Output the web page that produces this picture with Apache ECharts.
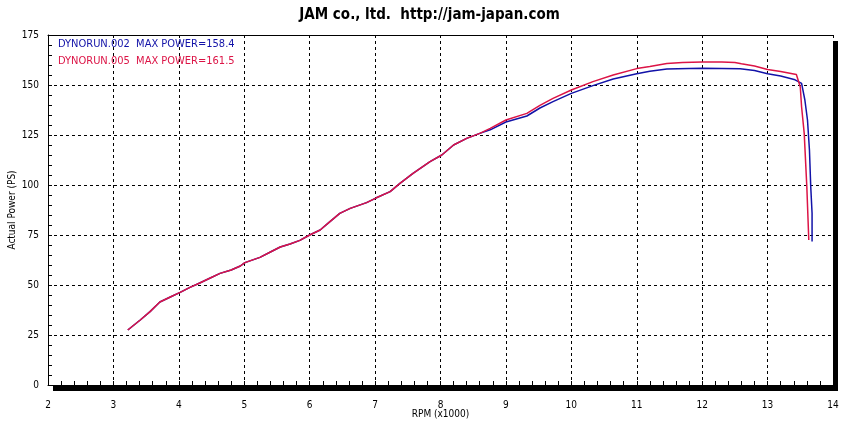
<!DOCTYPE html>
<html>
<head>
<meta charset="utf-8">
<script src="https://cdn.jsdelivr.net/npm/echarts@6/dist/echarts.min.js"></script>
<style>html,body{margin:0;padding:0;background:#fff;}#c{width:859px;height:426px;}</style>
</head>
<body>
<div id="c"></div>
<script>
const FONT = "'Liberation Sans Narrow','DejaVu Sans Condensed','Noto Sans CJK JP',sans-serif";
const titleText = 'JAM co., ltd.  http://jam-japan.com';
const run1Label = 'DYNORUN.002  MAX POWER=158.4';
const run2Label = 'DYNORUN.005  MAX POWER=161.5';
const xTicks = [2,3,4,5,6,7,8,9,10,11,12,13,14];
const yTicks = [0,25,50,75,100,125,150,175];

const run1Rpm = [3.22,3.41,3.56,3.71,3.87,4.02,4.17,4.32,4.48,4.63,4.80,4.94,5.01,5.24,5.40,5.55,5.70,5.85,6.00,6.16,6.31,6.46,6.62,6.87,7.02,7.23,7.38,7.58,7.84,8.02,8.20,8.40,8.60,8.76,9.00,9.32,9.52,9.72,10.00,10.33,10.64,11.00,11.20,11.46,11.80,12.00,12.30,12.58,12.80,13.00,13.20,13.42,13.52,13.57,13.61,13.64,13.66,13.68,13.68];
const run1Power = [27.5,32.5,36.7,41.5,44.0,46.3,48.8,51.0,53.5,55.8,57.5,59.5,61.2,63.8,66.5,69.0,70.5,72.3,75.0,77.5,81.7,85.8,88.3,91.2,93.6,96.7,100.8,105.8,111.7,115.0,120.0,123.3,125.8,127.6,131.5,134.5,138.5,141.7,145.8,149.7,153.0,155.6,156.9,158.0,158.3,158.4,158.3,158.1,157.2,155.6,154.5,152.6,150.8,142.5,132.5,117.5,99.0,86.0,71.7];

const run2Rpm = [3.22,3.41,3.56,3.71,3.87,4.02,4.17,4.32,4.48,4.63,4.80,4.94,5.01,5.24,5.40,5.55,5.70,5.85,6.00,6.16,6.31,6.46,6.62,6.87,7.02,7.23,7.38,7.58,7.84,8.02,8.20,8.40,8.60,8.76,9.00,9.32,9.52,9.72,10.00,10.33,10.64,11.00,11.20,11.46,11.70,12.00,12.30,12.50,12.60,12.80,13.00,13.20,13.44,13.50,13.52,13.56,13.60,13.63];
const run2Power = [27.5,32.5,36.7,41.5,44.0,46.3,48.8,51.0,53.5,55.8,57.5,59.5,61.2,63.8,66.5,69.0,70.5,72.3,75.0,77.5,81.7,85.8,88.3,91.2,93.6,96.7,100.8,105.8,111.7,115.0,120.0,123.3,125.8,128.3,132.5,135.8,139.8,143.3,147.5,151.7,155.0,158.2,159.2,160.8,161.3,161.5,161.5,161.2,160.6,159.5,157.8,156.8,155.2,149.0,139.0,125.8,99.0,72.5];

const run1Color = '#1212a8';
const run2Color = '#dc1446';

const chart = echarts.init(document.getElementById('c'), null, {renderer:'canvas'});
const axisTextStyle = {color:'#000', fontFamily: FONT, fontSize: 10};
const dashed = {show: true, lineStyle: {color:'#000', type: [3,3], width: 1}};
chart.setOption({
  animation: false,
  backgroundColor: '#fff',
  title: [
    {text: titleText, left: 'center', top: 3, textStyle: {color:'#000', fontFamily: FONT, fontSize: 15, fontWeight: 'bold'}},
    {text: run1Label, left: 58, top: 39, padding: 0, textStyle: {color: run1Color, fontFamily: FONT, fontSize: 11, fontWeight: 'normal'}},
    {text: run2Label, left: 58, top: 56, padding: 0, textStyle: {color: run2Color, fontFamily: FONT, fontSize: 11, fontWeight: 'normal'}}
  ],
  grid: {
    left: 48, right: 26, top: 35, bottom: 41,
    outerBoundsMode: 'none', containLabel: false,
    show: true, backgroundColor: '#fff', borderWidth: 0, borderColor: 'transparent',
    shadowColor: '#000', shadowBlur: 0, shadowOffsetX: 5, shadowOffsetY: 6
  },
  xAxis: [{
    type: 'value', min: xTicks[0], max: xTicks[xTicks.length-1], interval: 1,
    name: 'RPM (x1000)', nameLocation: 'middle', nameGap: 24, nameMoveOverlap: false, nameTextStyle: axisTextStyle,
    axisLine: {show: true, onZero: false, lineStyle: {color:'#000', width: 1}},
    axisTick: {show: true, inside: true, length: 4, lineStyle: {color:'#000'}},
    minorTick: {show: true, splitNumber: 5, length: 4, lineStyle: {color:'#000'}},
    axisLabel: {color:'#000', fontFamily: FONT, fontSize: 10, margin: 15},
    splitLine: dashed
  }, {
    type: 'value', position: 'top', min: xTicks[0], max: xTicks[xTicks.length-1], interval: 1,
    axisLine: {show: true, onZero: false, lineStyle: {color:'#000', width: 1}},
    axisTick: {show: false}, axisLabel: {show: false}, splitLine: {show: false}
  }],
  yAxis: {
    type: 'value', min: yTicks[0], max: yTicks[yTicks.length-1], interval: 25,
    name: 'Actual Power (PS)', nameLocation: 'middle', nameGap: 31, nameMoveOverlap: false, nameRotate: 90, nameTextStyle: axisTextStyle,
    axisLine: {show: true, onZero: false, lineStyle: {color:'#000', width: 1}},
    axisTick: {show: true, inside: true, length: 4, lineStyle: {color:'#000'}},
    minorTick: {show: true, splitNumber: 5, length: 4, lineStyle: {color:'#000'}},
    axisLabel: {color:'#000', fontFamily: FONT, fontSize: 10, margin: 9},
    splitLine: dashed
  },
  series: [
    {name: run1Label, type: 'line', showSymbol: false, symbol: 'none', color: run1Color,
     lineStyle: {color: run1Color, width: 1.5}, data: run1Rpm.map((r,i)=>[r, run1Power[i]]), z: 3},
    {name: run2Label, type: 'line', showSymbol: false, symbol: 'none', color: run2Color,
     lineStyle: {color: run2Color, width: 1.5}, data: run2Rpm.map((r,i)=>[r, run2Power[i]]), z: 4}
  ]
});
</script>
</body>
</html>
